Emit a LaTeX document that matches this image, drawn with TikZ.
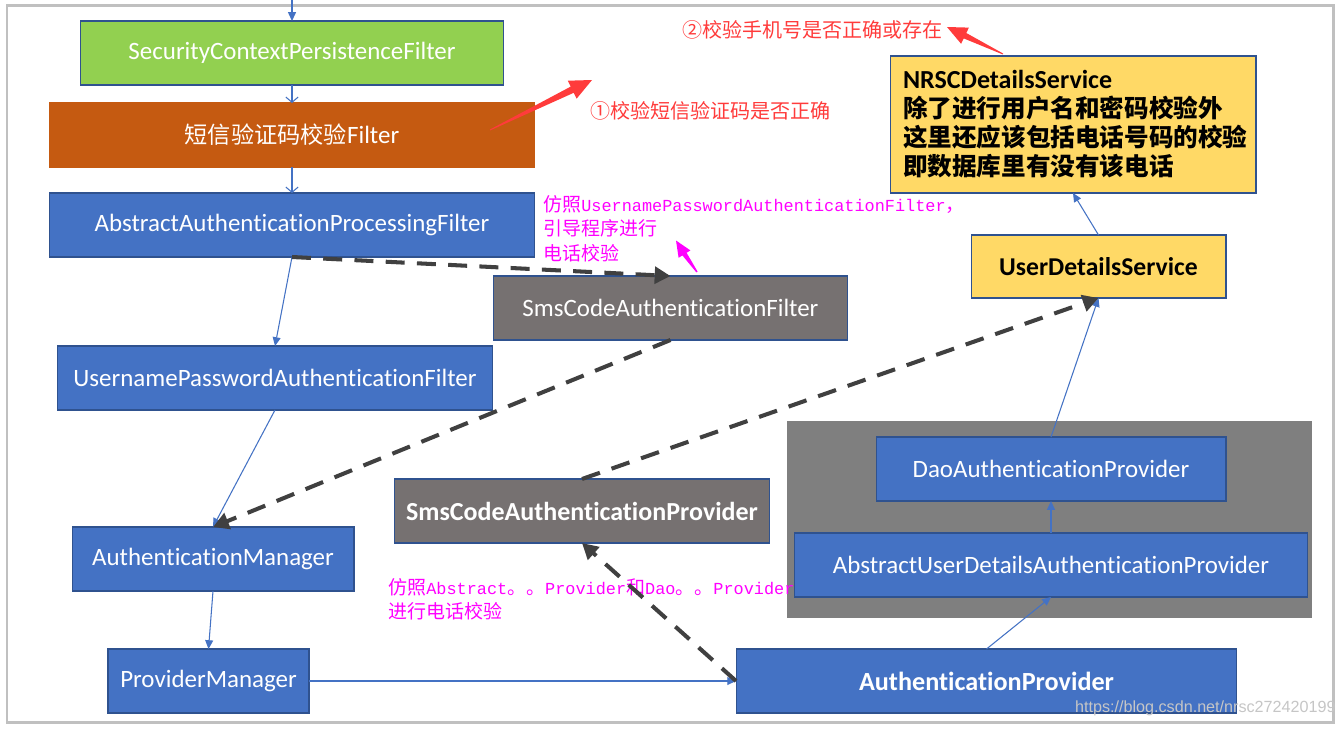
\documentclass[tikz,border=0pt]{standalone}
\usepackage{fontspec}
\setmainfont{Carlito}[Ligatures=NoCommon]
\newfontfamily\cjk{Noto Sans CJK SC}
\newfontfamily\mono{Liberation Mono}
\newfontfamily\marksans{Liberation Sans}
\usetikzlibrary{arrows.meta}
\definecolor{boxblue}{HTML}{4472C4}
\definecolor{edgeblue}{HTML}{2F528F}
\definecolor{boxgreen}{HTML}{92D050}
\definecolor{boxorange}{HTML}{C55A11}
\definecolor{boxgray}{HTML}{767171}
\definecolor{bggray}{HTML}{7F7F7F}
\definecolor{boxyellow}{HTML}{FFD966}
\definecolor{dashgray}{HTML}{404040}
\definecolor{notered}{HTML}{FF3B3B}
\definecolor{notepink}{HTML}{FF00FF}
\definecolor{framegray}{HTML}{C0C0C0}
\newcommand{\zh}[1]{{\cjk\fontsize{10.8}{13.9}\selectfont #1}}

\begin{document}
\begin{tikzpicture}[x=0.02cm, y=-0.02cm,
        box/.style={draw=edgeblue, line width=0.6pt, fill=boxblue, text=white, minimum height=1.28cm,
            inner sep=0pt, outer sep=0pt, font=\fontsize{14.2}{17}\selectfont},
        graybox/.style={box, fill=boxgray},
        yellowbox/.style={box, fill=boxyellow, text=black},
        flow/.style={draw=boxblue, line width=0.6pt, -{Triangle[length=5pt,width=4.5pt]}},
        flowopen/.style={draw=boxblue, line width=0.6pt, -{Straight Barb[length=3pt,width=7pt]}},
        dashflow/.style={draw=dashgray, line width=2.3pt, dash pattern=on 10.8pt off 7pt,
            -{Triangle[length=9pt,width=9.5pt]}},
        note/.style={anchor=west, inner sep=0pt, text=notered, font=\cjk\fontsize{11.4}{14}\selectfont},
        pinknote/.style={anchor=north west, align=left, inner sep=0pt, text=notepink,
            font=\mono\fontsize{9.6}{13.9}\selectfont}]
    \fill[white] (0,0) rectangle (1340,728);
    \useasboundingbox (0,0) rectangle (1340,728);
    \draw[framegray, line width=1.7pt] (7,5) rectangle (1333,722);
    \fill[bggray] (787,421) rectangle (1312,618);

    \node[box, fill=boxgreen, minimum width=8.48cm] (scpf) at (292,53) {SecurityContextPersistenceFilter};
    \node[box, fill=boxorange, draw=boxorange, minimum width=9.72cm] (smsf) at (292,135)
        {{\cjk\fontsize{13.2}{16}\selectfont 短信验证码校验}Filter};
    \node[box, minimum width=9.72cm] (aapf) at (292,225) {AbstractAuthenticationProcessingFilter};
    \node[graybox, minimum width=7.10cm] (smscf) at (670.5,308) {SmsCodeAuthenticationFilter};
    \node[box, minimum width=8.72cm] (upaf) at (275,378) {UsernamePasswordAuthenticationFilter};
    \node[box, minimum width=5.64cm] (am) at (213,559) {AuthenticationManager};
    \node[box, minimum width=4.02cm] (pm) at (208.5,681) {ProviderManager};
    \node[graybox, minimum width=7.52cm, font=\bfseries\fontsize{14.8}{17}\selectfont] (smscp) at (582,511)
        {SmsCodeAuthenticationProvider};
    \node[box, minimum width=10.02cm, font=\bfseries\fontsize{14.9}{17}\selectfont] (ap) at (986.5,681)
        {AuthenticationProvider};
    \node[box, minimum width=7.00cm] (dap) at (1051,469) {DaoAuthenticationProvider};
    \node[box, minimum width=10.28cm] (audap) at (1051,565) {AbstractUserDetailsAuthenticationProvider};
    \node[yellowbox, minimum width=5.10cm, minimum height=1.26cm, font=\bfseries\fontsize{14.6}{17}\selectfont]
        (uds) at (1098.5,266.5) {UserDetailsService};
    \node[yellowbox, minimum width=7.32cm, minimum height=2.74cm, text width=6.8cm, align=left,
        font=\cjk\bfseries\fontsize{14}{16.5}\selectfont] (nrsc) at (1073,124.5)
        {{\rmfamily\fontsize{14.8}{16.5}\selectfont NRSCDetailsService}\\
         除了进行用户名和密码校验外\\
         这里还应该包括电话号码的校验\\
         即数据库里有没有该电话};

    \node[note] (note1) at (590,111) {①校验短信验证码是否正确};
    \node[note] (note2) at (682,30) {②校验手机号是否正确或存在};
    \node[pinknote] (pink1) at (543,195)
        {\zh{仿照}UsernamePasswordAuthenticationFilter\zh{，}\\\zh{引导程序进行}\\\zh{电话校验}};
    \node[pinknote] (pink2) at (388,578)
        {\zh{仿照}Abstract\zh{。。}Provider\zh{和}Dao\zh{。。}Provider\\\zh{进行电话校验}};
    \node[anchor=east, inner sep=0pt, text=gray!45, font=\marksans\fontsize{9.2}{11}\selectfont] (mark)
        at (1336,708) {https://blog.csdn.net/nrsc272420199};

    \fill[notered] (489.8,129.6) -- (570.7,86.6) -- (567.8,80.7) -- (592,80) -- (576.6,98.7)
        -- (573.7,92.8) -- (490.2,130.4) -- cycle;
    \fill[notered] (1003.2,53.55) -- (966.3,33.0) -- (968.9,27.6) -- (947,27) -- (961.1,43.8)
        -- (963.7,38.4) -- (1002.8,54.45) -- cycle;
    \fill[notepink] (697.6,271.6) -- (686.6,252.8) -- (690.4,250.4) -- (676,240.5) -- (678.6,257.8)
        -- (682.4,255.4) -- (696.4,272.4) -- cycle;

    \coordinate (top) at (292,0);
    \draw[flow] (top) -- (scpf.north);
    \draw[flowopen] (scpf.south) -- (smsf.north);
    \draw[flowopen] (smsf.south) -- (aapf.north);
    \draw[flow] (aapf.south) -- (upaf.north);
    \draw[flow] (upaf.south) -- (am.north);
    \draw[flow] (am.south) -- (pm.north);
    \draw[flow] (pm.east) -- (ap.west);
    \draw[flow] (ap.north) -- (audap.south);
    \draw[flow] (audap.north) -- (dap.south);
    \draw[flow] (dap.north) -- (uds.south);
    \draw[flow] (uds.north) -- (nrsc.south);

    \draw[dashflow] (aapf.south) -- (smscf.north);
    \draw[dashflow] (smscf.south) -- (am.north);
    \draw[dashflow] (smscp.north) -- (uds.south);
    \draw[dashflow] (ap.west) -- (smscp.south);
\end{tikzpicture}
\end{document}
